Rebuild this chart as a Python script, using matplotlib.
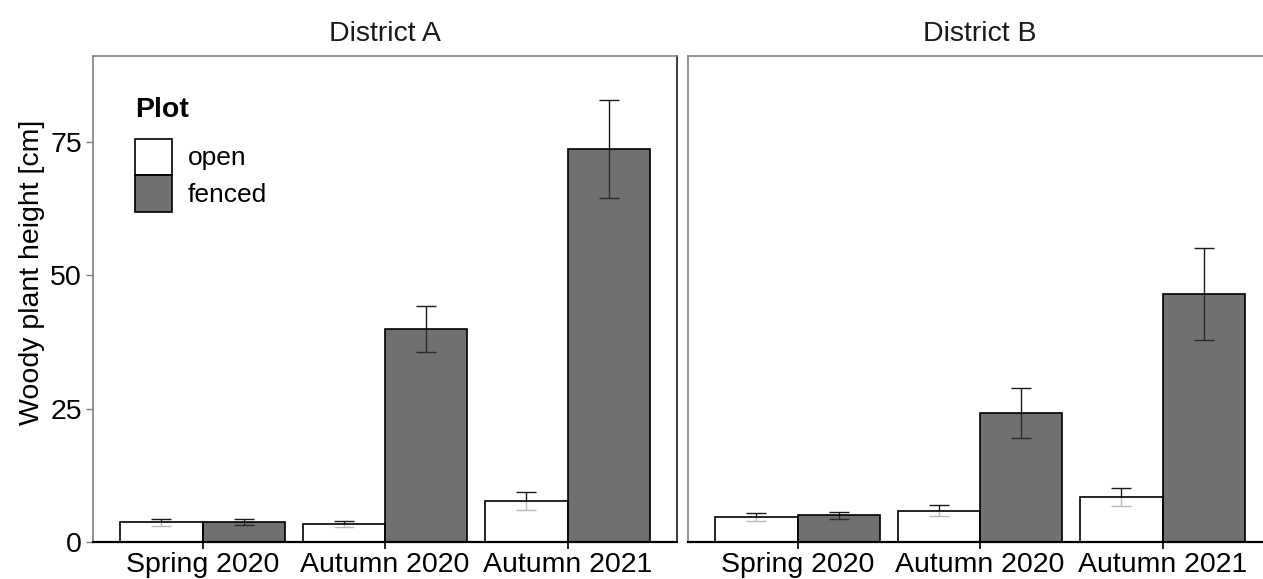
import numpy as np
import matplotlib
matplotlib.use("Agg")
from matplotlib import pyplot as plt
from matplotlib.patches import Patch

plt.rcParams['font.family'] = ['Liberation Sans', 'DejaVu Sans']

# data
seasons = ['Spring 2020', 'Autumn 2020', 'Autumn 2021']
districts = ['District A', 'District B']
plots = ['open', 'fenced']

a_open = [3.7, 3.4, 7.7]
a_open_err = [0.7, 0.5, 1.7]
a_fenced = [3.8, 39.9, 73.7]
a_fenced_err = [0.6, 4.3, 9.2]

b_open = [4.7, 5.9, 8.4]
b_open_err = [0.8, 1.1, 1.7]
b_fenced = [5.0, 24.2, 46.5]
b_fenced_err = [0.6, 4.7, 8.6]

yticks = [0, 25, 50, 75]

# semi-transparent fills, so error bars show through like in ggplot
fills = {'open': (1, 1, 1, 0.7), 'fenced': (0.2, 0.2, 0.2, 0.7)}

W, H = 1263, 579
fig = plt.figure(figsize=(W / 100, H / 100), dpi=100)
bottom = 1 - 542 / H
height = 486 / H
ax_a = fig.add_axes([93 / W, bottom, 584 / W, height])
ax_b = fig.add_axes([688 / W, bottom, 584 / W, height])


def draw_panel(ax, title, open_vals, open_err, fenced_vals, fenced_err):
    """draws one facet: dodged bars with error bars"""
    x = np.arange(1, len(seasons) + 1)
    w = 0.45
    series = [(x - w / 2, open_vals, open_err, 'open'),
              (x + w / 2, fenced_vals, fenced_err, 'fenced')]
    for xs, vals, err, name in series:
        ax.errorbar(xs, vals, yerr=err, fmt='none', ecolor='#1a1a1a',
                    elinewidth=1.0, capsize=7, capthick=1.0, zorder=1)
        ax.bar(xs, vals, width=w, facecolor=fills[name], edgecolor='black',
               linewidth=1.2, zorder=2)
    ax.set_xlim(0.4, 3.6)
    ax.set_ylim(0, 91.1)
    ax.set_xticks(x)
    ax.set_xticklabels(seasons, fontsize=20.5)
    ax.set_yticks(yticks)
    ax.tick_params(axis='x', length=5, width=1.2, color='black', pad=2)
    ax.tick_params(axis='y', length=5, width=1.0, color='#808080', pad=3,
                   labelsize=20.5)
    ax.set_title(title, fontsize=20.5, pad=11, color='#1a1a1a')
    for side in ['top', 'left']:
        ax.spines[side].set_color('#808080')
        ax.spines[side].set_linewidth(1.2)
    ax.spines['right'].set_color('#1a1a1a')
    ax.spines['right'].set_linewidth(1.2)
    ax.spines['bottom'].set_color('black')
    ax.spines['bottom'].set_linewidth(1.6)


draw_panel(ax_a, districts[0], a_open, a_open_err, a_fenced, a_fenced_err)
draw_panel(ax_b, districts[1], b_open, b_open_err, b_fenced, b_fenced_err)

ax_b.tick_params(axis='y', left=False, labelleft=False)
ax_a.set_ylabel('Woody plant height [cm]', fontsize=20.5)
ax_a.yaxis.set_label_coords(-0.083, 0.555)

# legend
handles = [Patch(facecolor=fills[p], edgecolor='black', linewidth=1.2)
           for p in plots]
leg = ax_a.legend(handles, plots, title='Plot', loc='upper left',
                  bbox_to_anchor=(0.072, 0.915), frameon=False, fontsize=19,
                  title_fontproperties={'weight': 'bold', 'size': 20.5},
                  handlelength=1.4, handleheight=1.75, labelspacing=0.0,
                  handletextpad=0.6, borderpad=0, borderaxespad=0)
leg._legend_box.align = 'left'
leg._legend_box.sep = 11

fig.savefig('out.png', dpi=100)
